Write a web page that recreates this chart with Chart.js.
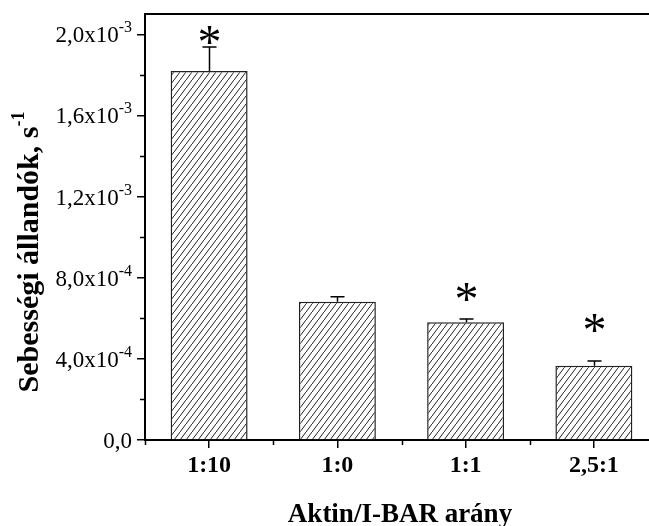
<!DOCTYPE html>
<html>
<head>
<meta charset="utf-8">
<script src="https://cdn.jsdelivr.net/npm/chart.js@4.4.0/dist/chart.umd.min.js"></script>
<style>
  html, body { margin: 0; padding: 0; background: #fff; overflow: hidden; }
  #wrap { width: 662px; height: 526px; }
</style>
</head>
<body>
<div id="wrap"><canvas id="chart" width="662" height="526"></canvas></div>
<script>
// Data
const categories = ['1:10', '1:0', '1:1', '2,5:1'];
const rates = [1.819e-3, 0.681e-3, 0.580e-3, 0.366e-3];
const rateErrors = [0.118e-3, 0.025e-3, 0.016e-3, 0.023e-3];
const starLevels = [1.995e-3, null, 0.729e-3, 0.576e-3]; // where the * marks sit
const yTicks = [0, 0.4e-3, 0.8e-3, 1.2e-3, 1.6e-3, 2.0e-3];
const yTickLabels = [['0,0', ''], ['4,0x10', '-4'], ['8,0x10', '-4'], ['1,2x10', '-3'], ['1,6x10', '-3'], ['2,0x10', '-3']];
const yMinorTicks = [0.2e-3, 0.6e-3, 1.0e-3, 1.4e-3, 1.8e-3];

const SERIF = "'Liberation Serif', 'DejaVu Serif', serif";

// diagonal hatch fill
function makeHatch() {
    const w = 6, h = 8;
    const c = document.createElement('canvas');
    c.width = w; c.height = h;
    const g = c.getContext('2d');
    g.fillStyle = '#fff';
    g.fillRect(0, 0, w, h);
    g.strokeStyle = '#222';
    g.lineWidth = 1;
    g.beginPath();
    g.moveTo(-w, 2 * h); g.lineTo(2 * w, -h);
    g.stroke();
    return g.createPattern(c, 'repeat');
}

const decorPlugin = {
    id: 'decor',
    afterDraw(chart) {
        const ctx = chart.ctx;
        const area = chart.chartArea;
        const x = chart.scales.x, y = chart.scales.y;
        ctx.save();

        // top frame line
        ctx.strokeStyle = '#000';
        ctx.lineWidth = 2;
        ctx.beginPath();
        ctx.moveTo(area.left - 1, area.top);
        ctx.lineTo(chart.width, area.top);
        ctx.stroke();

        // minor ticks
        ctx.lineWidth = 1.5;
        ctx.beginPath();
        yMinorTicks.forEach(v => {
            const py = Math.round(y.getPixelForValue(v)) + 0.5;
            ctx.moveTo(area.left - 5, py);
            ctx.lineTo(area.left, py);
        });
        for (let i = 0; i <= categories.length; i++) {
            const px = Math.round(x.getPixelForValue(i - 0.5)) + 0.5;
            ctx.moveTo(px, area.bottom);
            ctx.lineTo(px, area.bottom + 5);
        }
        ctx.stroke();

        // y tick labels with superscript exponents
        yTicks.forEach((v, i) => {
            const py = y.getPixelForValue(v);
            const [main, sup] = yTickLabels[i];
            ctx.font = '23px ' + SERIF;
            const wMain = ctx.measureText(main).width;
            ctx.font = '16px ' + SERIF;
            const wSup = sup ? ctx.measureText(sup).width : 0;
            const right = 132;
            ctx.fillStyle = '#000';
            ctx.textAlign = 'left';
            ctx.textBaseline = 'alphabetic';
            ctx.font = '23px ' + SERIF;
            ctx.fillText(main, right - wSup - wMain, py + 8);
            if (sup) {
                ctx.font = '16px ' + SERIF;
                ctx.fillText(sup, right - wSup, py - 2);
            }
        });

        // y axis title
        ctx.save();
        ctx.translate(38, 252);
        ctx.rotate(-Math.PI / 2);
        const t1 = 'Sebességi állandók, s';
        ctx.font = 'bold 18px ' + SERIF;
        const sw = ctx.measureText('-1').width;
        ctx.font = 'bold 30px ' + SERIF;
        const tw = ctx.measureText(t1).width;
        ctx.textAlign = 'left';
        ctx.textBaseline = 'alphabetic';
        ctx.fillText(t1, -(tw + sw) / 2, 0);
        ctx.font = 'bold 18px ' + SERIF;
        ctx.fillText('-1', -(tw + sw) / 2 + tw, -14);
        ctx.restore();

        // x axis title
        ctx.font = 'bold 27px ' + SERIF;
        ctx.textAlign = 'center';
        ctx.textBaseline = 'alphabetic';
        ctx.fillText('Aktin/I-BAR arány', 400, 522);

        ctx.restore();
    },
    afterDatasetsDraw(chart) {
        const ctx = chart.ctx;
        const x = chart.scales.x, y = chart.scales.y;
        ctx.save();
        ctx.strokeStyle = '#000';
        ctx.fillStyle = '#000';
        ctx.lineWidth = 1.5;
        rates.forEach((v, i) => {
            const px = Math.round(x.getPixelForValue(i)) + 0.5;
            const top = y.getPixelForValue(v);
            const cap = y.getPixelForValue(v + rateErrors[i]);
            ctx.beginPath();
            ctx.moveTo(px, top);
            ctx.lineTo(px, cap);
            ctx.moveTo(px - 7, cap);
            ctx.lineTo(px + 7, cap);
            ctx.stroke();
            if (starLevels[i] !== null) {
                const sy = y.getPixelForValue(starLevels[i]);
                ctx.font = '48px ' + SERIF;
                ctx.textAlign = 'center';
                ctx.textBaseline = 'alphabetic';
                const m = ctx.measureText('*');
                const mid = (m.actualBoundingBoxAscent - m.actualBoundingBoxDescent) / 2;
                ctx.fillText('*', px, sy + mid);
            }
        });
        ctx.restore();
    }
};

new Chart(document.getElementById('chart'), {
    type: 'bar',
    data: {
        labels: categories,
        datasets: [{
            data: rates,
            backgroundColor: makeHatch(),
            borderColor: '#222',
            borderWidth: 1.5,
            borderSkipped: 'bottom',
            categoryPercentage: 1,
            barPercentage: 0.6
        }]
    },
    options: {
        responsive: false,
        animation: false,
        layout: { padding: { left: 0, top: 14, right: 4, bottom: 0 } },
        plugins: {
            legend: { display: false },
            tooltip: { enabled: false }
        },
        scales: {
            x: {
                offset: true,
                grid: { offset: false, drawOnChartArea: false, tickLength: 8, color: '#000', lineWidth: 1.5 },
                border: { display: true, color: '#000', width: 2 },
                ticks: {
                    color: '#000',
                    padding: 3,
                    maxRotation: 0,
                    font: { family: SERIF, size: 24, weight: 'bold' }
                },
                afterFit: s => { s.height = 86; }
            },
            y: {
                min: 0,
                max: 2.1e-3,
                afterBuildTicks: s => { s.ticks = yTicks.map(v => ({ value: v })); },
                grid: { drawOnChartArea: false, tickLength: 8, color: '#000', lineWidth: 1.5 },
                border: { display: true, color: '#000', width: 2 },
                ticks: { display: false },
                afterFit: s => { s.width = 145; }
            }
        }
    },
    plugins: [decorPlugin]
});
</script>
</body>
</html>
